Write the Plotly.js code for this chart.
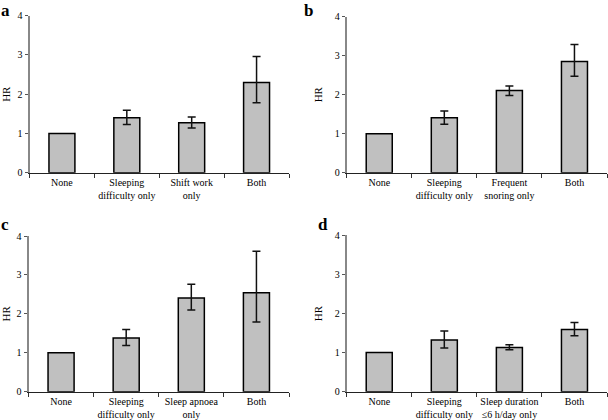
<!DOCTYPE html>
<html>
<head>
<meta charset="utf-8">
<script src="https://cdn.plot.ly/plotly-3.0.1.min.js"></script>
<style>html,body{margin:0;padding:0;background:#fff}#chart{width:608px;height:420px}</style>
</head>
<body>
<div id="chart"></div>
<script>
// Panel a
const catsA = ["None", "Sleeping<br>difficulty only", "Shift work<br>only", "Both"];
const hrA = [1.00, 1.40, 1.27, 2.30];
const upA = [null, 1.59, 1.42, 2.96];
const loA = [null, 1.23, 1.14, 1.78];
// Panel b
const catsB = ["None", "Sleeping<br>difficulty only", "Frequent<br>snoring only", "Both"];
const hrB = [1.00, 1.41, 2.11, 2.85];
const upB = [null, 1.58, 2.22, 3.29];
const loB = [null, 1.24, 1.98, 2.47];
// Panel c
const catsC = ["None", "Sleeping<br>difficulty only", "Sleep apnoea<br>only", "Both"];
const hrC = [1.00, 1.38, 2.41, 2.54];
const upC = [null, 1.60, 2.76, 3.61];
const loC = [null, 1.19, 2.10, 1.79];
// Panel d
const catsD = ["None", "Sleeping<br>difficulty only", "Sleep duration<br>≤6 h/day only", "Both"];
const hrD = [1.00, 1.32, 1.13, 1.59];
const upD = [null, 1.55, 1.20, 1.77];
const loD = [null, 1.12, 1.07, 1.43];
const panelLabels = ["a", "b", "c", "d"];
const yTicks = [0, 1, 2, 3, 4];

const panels = [
  {cats: catsA, hr: hrA, up: upA, lo: loA},
  {cats: catsB, hr: hrB, up: upB, lo: loB},
  {cats: catsC, hr: hrC, up: upC, lo: loC},
  {cats: catsD, hr: hrD, up: upD, lo: loD}
];

const W = 608, H = 420;
const boxes = [
  {x0: 29.5, x1: 289, yTop: 15.7, yBot: 172.7, lx: 0, ly: 0},
  {x0: 346.7, x1: 607, yTop: 16.7, yBot: 172.7, lx: 303, ly: 0},
  {x0: 28.5, x1: 289, yTop: 236, yBot: 391.7, lx: 0, ly: 214},
  {x0: 346.7, x1: 607, yTop: 235.3, yBot: 391.7, lx: 317, ly: 214.5}
];
const FAM = "'Liberation Serif', 'Times New Roman', serif";
const font = {family: FAM, color: "#000", size: 10};

const data = [];
const layout = {
  width: W, height: H,
  margin: {l: 0, r: 0, t: 0, b: 0},
  paper_bgcolor: "#fff", plot_bgcolor: "#fff",
  showlegend: false,
  bargap: 0.6,
  font: font,
  annotations: []
};

panels.forEach((p, i) => {
  const n = i === 0 ? "" : String(i + 1);
  data.push({
    type: "bar",
    x: p.cats, y: p.hr,
    xaxis: "x" + n, yaxis: "y" + n,
    marker: {color: "#c0c0c0", line: {color: "#000", width: 1.5}},
    error_y: {
      type: "data", symmetric: false,
      array: p.up.map((u, k) => u === null ? NaN : u - p.hr[k]),
      arrayminus: p.lo.map((l, k) => l === null ? NaN : p.hr[k] - l),
      color: "#111", thickness: 1.5, width: 4,
      visible: true
    },
    hoverinfo: "none"
  });
  const b = boxes[i];
  layout["xaxis" + n] = {
    domain: [b.x0 / W, b.x1 / W],
    anchor: "y" + n,
    type: "category",
    range: [-0.5, 3.5],
    showline: true, linecolor: "#222", linewidth: 1.5,
    ticks: "outside", tickson: "boundaries", ticklen: 4, tickcolor: "#333", tickwidth: 1,
    showgrid: false, zeroline: false,
    tickangle: 0,
    tickfont: font, fixedrange: true
  };
  layout["yaxis" + n] = {
    domain: [1 - b.yBot / H, 1 - b.yTop / H],
    anchor: "x" + n,
    range: [0, 4],
    tickvals: yTicks,
    showline: true, linecolor: "#888", linewidth: 2,
    ticks: "outside", ticklen: 3, tickcolor: "#555", tickwidth: 1,
    showgrid: false, zeroline: false,
    tickfont: font,
    title: {text: "HR", font: {family: FAM, size: 11, color: "#000"}, standoff: 10},
    fixedrange: true
  };
  layout.annotations.push({
    text: "<b>" + panelLabels[i] + "</b>",
    xref: "paper", yref: "paper",
    x: b.lx / W,
    y: 1 - b.ly / H,
    xanchor: "left", yanchor: "top", showarrow: false,
    borderpad: 0,
    font: {family: FAM, size: 17, color: "#000"}
  });
});

Plotly.newPlot("chart", data, layout, {displayModeBar: false, staticPlot: true});
</script>
</body>
</html>
